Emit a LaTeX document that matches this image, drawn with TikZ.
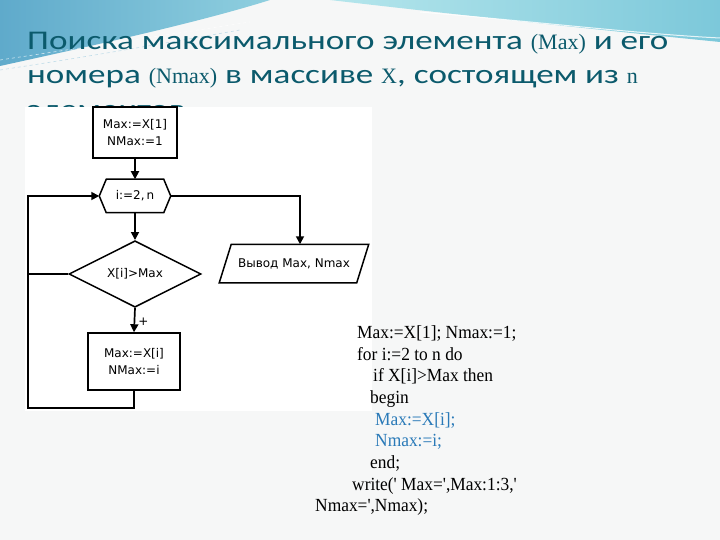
\documentclass[tikz,border=0pt]{standalone}
\usepackage{fontspec}
\setmainfont{Liberation Serif}
\newfontfamily\ttlf[FakeStretch=1.3]{Carlito}
\newfontfamily\srf{Liberation Serif}
\newfontfamily\fcf{DejaVu Sans}
\newfontfamily\codef[FakeStretch=0.94]{Liberation Serif}
\usetikzlibrary{shapes.geometric,arrows.meta}
\definecolor{bgc}{HTML}{F6F7F7}
\definecolor{tealA}{HTML}{5FAACB}
\definecolor{tealB}{HTML}{8FCFDF}
\definecolor{tealC}{HTML}{7CC8DA}
\definecolor{tealD}{HTML}{B5E6EC}
\definecolor{titlec}{HTML}{0B5A6C}
\definecolor{codeblue}{HTML}{2A7AB8}
\tikzset{
  fbox/.style={draw, line width=1.5pt, align=center, inner sep=0pt,
    font=\fcf\fontsize{12}{17}\selectfont},
  flow/.style={line width=1.7pt},
  arr/.style={flow, -{Triangle[length=8pt,width=8pt]}},
  ttl/.style={anchor=base west, inner sep=0pt, text=titlec,
    font=\ttlf\fontsize{27}{34}\selectfont},
  codeline/.style={anchor=base west, inner sep=0pt,
    font=\codef\fontsize{18.5}{21.7}\selectfont}
}
\newcommand\srp[1]{{\srf\fontsize{22}{22}\selectfont #1}}
\begin{document}
\begin{tikzpicture}[x=1pt,y=-1pt]
\useasboundingbox (0,0) rectangle (720,540);
% slide background
\fill[bgc] (0,0) rectangle (720,540);
\shade[left color=tealA, right color=tealB]
  (0,0) -- (270,0) .. controls (200,22) and (100,44) .. (0,66) -- cycle;
\shade[left color=tealD, right color=tealC]
  (330,0) -- (720,0) -- (720,42) .. controls (600,30) and (450,14) .. (330,0) -- cycle;
\draw[white, opacity=0.7, dashed, line width=0.6pt]
  (0,60) .. controls (80,48) and (160,36) .. (250,22);
\draw[tealA!60, opacity=0.6, dashed, line width=0.6pt]
  (0,70) .. controls (80,58) and (160,44) .. (240,30);
\draw[white, opacity=0.8, line width=1pt]
  (420,12) .. controls (540,22) and (640,34) .. (720,38);
% title
\node[ttl] (t1) at (27,50) {Поиска максимального элемента \srp{(Max)} и его};
\node[ttl] (t2) at (27,84) {номера \srp{(Nmax)} в массиве \srp{X}, состоящем из \srp{n}};
\node[ttl] (t3) at (27,119) {элементов};
% flowchart picture area
\fill[white] (25,107) rectangle (372,411);
\node[fbox, minimum width=84pt, minimum height=51pt] (b1) at (135,132.5) {Max:=X[1]\\NMax:=1};
\node[fbox, draw=none, minimum width=70pt, minimum height=32pt] (hx) at (135,196) {i:=2,\,n};
\draw[line width=1.5pt] (hx.west) -- ([xshift=7pt]hx.north west) -- ([xshift=-7pt]hx.north east)
  -- (hx.east) -- ([xshift=-7pt]hx.south east) -- ([xshift=7pt]hx.south west) -- cycle;
\node[fbox, shape=diamond, minimum width=132pt, minimum height=64pt] (dm) at (135,274) {X[i]>Max};
\node[fbox, draw=none, minimum width=136pt, minimum height=37pt] (pr) at (294,263.5) {Вывод Max, Nmax};
\draw[line width=1.5pt] ([xshift=6pt]pr.north west) -- ([xshift=6pt]pr.north east)
  -- ([xshift=-6pt]pr.south east) -- ([xshift=-6pt]pr.south west) -- cycle;
\node[fbox, minimum width=92pt, minimum height=57pt] (b3) at (134,361.5) {Max:=X[i]\\NMax:=i};
\coordinate (lb) at (28,408);
\coordinate (lt) at (28,196);
\coordinate (lm) at (28,274);
\coordinate (pt) at (300,196);
\draw[arr] (b1.south) -- (hx.north);
\draw[arr] (hx.south) -- (dm.north);
\draw[arr] (dm.south) -- node[right, pos=0.55, inner sep=3pt, font=\fcf\fontsize{12}{12}\selectfont] {+} (b3.north);
\draw[arr] (b3.south) |- (lb) -- (lt) -- (hx.west);
\draw[flow] (dm.west) -- (lm);
\draw[arr] (hx.east) -- (pt) -- ([xshift=6pt]pr.north);
% code
\node[codeline] (c1) at (357,338.3) {Max:=X[1]; Nmax:=1;};
\node[codeline] (c2) at (357,360) {for i:=2 to n do};
\node[codeline] (c3) at (373,381.7) {if X[i]>Max then};
\node[codeline] (c4) at (370,403.4) {begin};
\node[codeline, text=codeblue] (c5) at (375,425.1) {Max:=X[i];};
\node[codeline, text=codeblue] (c6) at (375,446.8) {Nmax:=i;};
\node[codeline] (c7) at (370,468.5) {end;};
\node[codeline] (c8) at (352,490.2) {write(' Max=',Max:1:3,'};
\node[codeline] (c9) at (315,511.9) {Nmax=',Nmax);};
\end{tikzpicture}
\end{document}
